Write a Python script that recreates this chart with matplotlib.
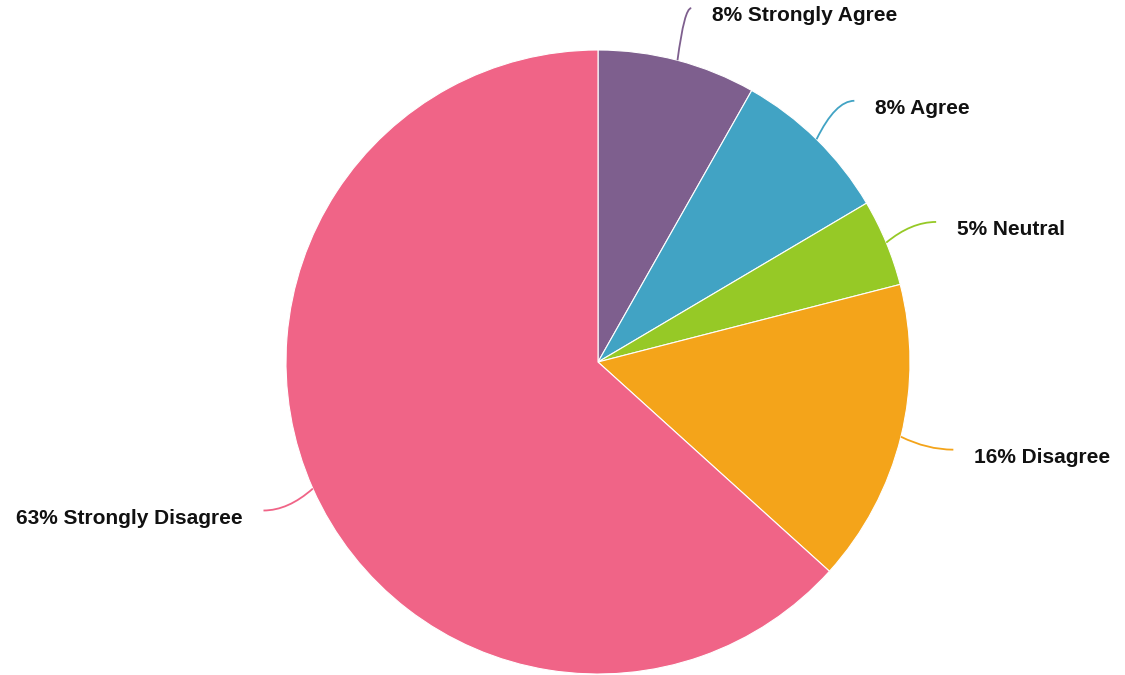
import numpy as np
import matplotlib.pyplot as plt
from matplotlib.path import Path
from matplotlib.patches import PathPatch

# Sample Data
labels = ['Strongly Agree', 'Agree', 'Neutral', 'Disagree', 'Strongly Disagree']
shares = [8.2, 8.3, 4.5, 15.7, 63.3]
colors = ['#7e5f8e', '#41a3c4', '#96c926', '#f4a41a', '#f06487']

W, H = 1125, 675
fig = plt.figure(figsize=(W / 100, H / 100), dpi=100)
ax = fig.add_axes([0, 0, 1, 1])

cx, cy, r = 598, H - 362, 312
wedges, _ = ax.pie(shares, colors=colors, startangle=90, counterclock=False,
                   center=(cx, cy), radius=r,
                   wedgeprops=dict(edgecolor='white', linewidth=0.8))

# Curved connectors and labels
for w, lab, pct, col in zip(wedges, labels, shares, colors):
    mid = np.deg2rad((w.theta1 + w.theta2) / 2)
    x0, y0 = cx + r * np.cos(mid), cy + r * np.sin(mid)
    x1, y1 = cx + (r + 54) * np.cos(mid), cy + (r + 54) * np.sin(mid)
    side = 1 if np.cos(mid) >= 0 else -1
    xc, yc = (x0 + x1) / 2, y1
    path = Path([(x0, y0), (xc, yc), (x1, y1)],
                [Path.MOVETO, Path.CURVE3, Path.CURVE3])
    ax.add_patch(PathPatch(path, fill=False, edgecolor=col, linewidth=1.3))
    ax.text(x1 + 21 * side, y1 - 13, f'{round(pct + 0.01):d}% {lab}',
            ha='left' if side > 0 else 'right', va='baseline',
            fontsize=15, fontweight='bold', family='Liberation Sans',
            color='#111111')

ax.set_xlim(0, W)
ax.set_ylim(0, H)
ax.set_aspect('equal')
ax.axis('off')

fig.savefig('out.png', dpi=100, facecolor='white')
